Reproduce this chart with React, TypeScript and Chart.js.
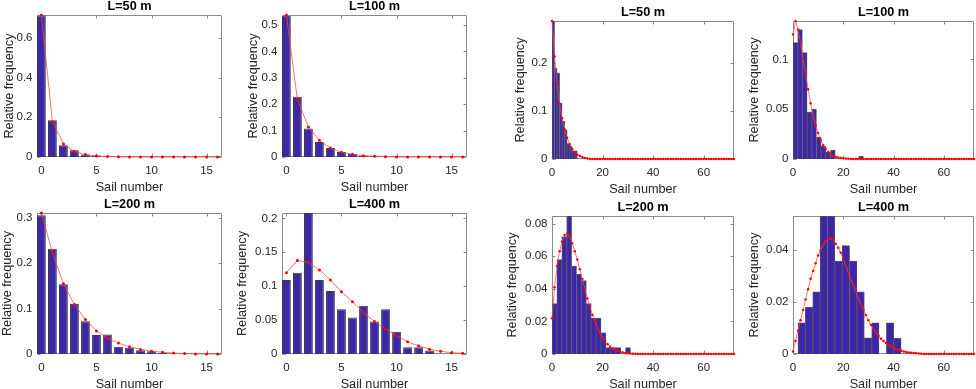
import React, { useEffect, useRef } from 'react';
import { Chart, registerables } from 'chart.js';

Chart.register(...registerables);

// ---------- data ----------
const SAIL_LEFT = [0, 1, 2, 3, 4, 5, 6, 7, 8, 9, 10, 11, 12, 13, 14, 15, 16];
const SAIL_RIGHT = [
  0, 1, 2, 3, 4, 5, 6, 7, 8, 9, 10, 11, 12, 13, 14, 15, 16, 17, 18, 19,
  20, 21, 22, 23, 24, 25, 26, 27, 28, 29, 30, 31, 32, 33, 34, 35, 36, 37, 38, 39,
  40, 41, 42, 43, 44, 45, 46, 47, 48, 49, 50, 51, 52, 53, 54, 55, 56, 57, 58, 59,
  60, 61, 62, 63, 64, 65, 66, 67, 68, 69, 70, 71, 72,
];

const X_TICKS_LEFT = [0, 5, 10, 15];
const X_TICKS_RIGHT = [0, 20, 40, 60];

// left group
const L50_FREQ = [0.712, 0.185, 0.059, 0.034, 0.012, 0.008, 0, 0, 0, 0, 0, 0, 0, 0, 0, 0, 0];
const L50_FIT = [0.715, 0.178, 0.066, 0.028, 0.012, 0.005, 0.002, 0.001, 0, 0, 0, 0, 0, 0, 0, 0, 0];
const L100_FREQ = [0.535, 0.228, 0.108, 0.057, 0.034, 0.019, 0.011, 0.004, 0.004, 0, 0, 0, 0, 0, 0, 0, 0];
const L100_FIT = [0.538, 0.218, 0.114, 0.063, 0.034, 0.018, 0.010, 0.005, 0.003, 0.001, 0, 0, 0, 0, 0, 0, 0];
const L200_FREQ = [0.306, 0.232, 0.154, 0.111, 0.072, 0.042, 0.043, 0.016, 0.014, 0.008, 0.006, 0.003, 0, 0, 0, 0, 0];
const L200_FIT = [0.311, 0.224, 0.155, 0.109, 0.076, 0.051, 0.035, 0.024, 0.016, 0.010, 0.006, 0.004, 0.002, 0.001, 0, 0, 0];
const L400_FREQ = [0.109, 0.120, 0.208, 0.109, 0.093, 0.066, 0.054, 0.071, 0.048, 0.066, 0.033, 0.010, 0.010, 0.005, 0, 0, 0];
const L400_FIT = [0.120, 0.138, 0.135, 0.124, 0.109, 0.092, 0.077, 0.061, 0.048, 0.037, 0.027, 0.018, 0.012, 0.007, 0.004, 0.002, 0.001];

const Y_TICKS_L50 = [0, 0.2, 0.4, 0.6];
const Y_TICKS_L100 = [0, 0.1, 0.2, 0.3, 0.4, 0.5];
const Y_TICKS_L200 = [0, 0.1, 0.2, 0.3];
const Y_TICKS_L400 = [0, 0.05, 0.1, 0.15, 0.2];

// right group
const R50_BIN = [0.5, 1.5, 2.5, 3.5, 4.5, 5.5, 6.5, 7.5, 8.5, 9.5];
const R50_FREQ = [0.287, 0.189, 0.179, 0.116, 0.079, 0.060, 0.032, 0.027, 0.017, 0.017];
const R50_FIT = [
  0.287, 0.213, 0.157, 0.115, 0.085, 0.062, 0.044, 0.031, 0.021, 0.014,
  0.009, 0.006, 0.004, 0.002, 0.001,
  0, 0, 0, 0, 0, 0, 0, 0, 0, 0,
  0, 0, 0, 0, 0, 0, 0, 0, 0, 0,
  0, 0, 0, 0, 0, 0, 0, 0, 0, 0,
  0, 0, 0, 0, 0, 0, 0, 0, 0, 0,
  0, 0, 0, 0, 0, 0, 0, 0, 0, 0,
  0, 0, 0, 0, 0, 0, 0, 0,
];

const R100_BIN = [0.93, 2.8, 4.67, 6.53, 8.4, 10.27, 12.13, 14.0, 15.87, 17.73, 19.6, 21.47, 23.33, 25.2, 27.07];
const R100_FREQ = [0.117, 0.130, 0.107, 0.047, 0.050, 0.022, 0.013, 0.007, 0.009, 0, 0, 0, 0, 0, 0.0026];
const R100_FIT = [
  0.125, 0.1386, 0.130, 0.117, 0.101, 0.085, 0.070, 0.056, 0.044, 0.034,
  0.026, 0.019, 0.014, 0.010, 0.007, 0.005, 0.003, 0.002, 0.0015, 0.001,
  0.0007, 0.0004, 0.0002, 0.0001,
  0, 0, 0, 0, 0, 0, 0, 0, 0, 0,
  0, 0, 0, 0, 0, 0, 0, 0, 0, 0,
  0, 0, 0, 0, 0, 0, 0, 0, 0, 0,
  0, 0, 0, 0, 0, 0, 0, 0, 0, 0,
  0, 0, 0, 0, 0, 0, 0, 0, 0,
];

const R200_BIN = [0.97, 2.91, 4.85, 6.79, 8.73, 10.67, 12.61, 14.55, 16.49, 18.43, 20.37, 22.31, 24.25, 26.19, 28.13, 30.07];
const R200_FREQ = [0.031, 0.058, 0.072, 0.0847, 0.054, 0.049, 0.045, 0.031, 0.022, 0.022, 0.013, 0.004, 0.004, 0.004, 0, 0.004];
const R200_FIT = [
  0.022, 0.041, 0.054, 0.063, 0.069, 0.073, 0.074, 0.072, 0.068, 0.063,
  0.058, 0.052, 0.046, 0.040, 0.034, 0.029, 0.024, 0.020, 0.016, 0.013,
  0.010, 0.008, 0.006, 0.0045, 0.0034, 0.0025, 0.0018, 0.0013, 0.0009, 0.0006,
  0.0004, 0.0003, 0.0002, 0.0001,
  0, 0, 0, 0, 0, 0, 0, 0, 0, 0,
  0, 0, 0, 0, 0, 0, 0, 0, 0, 0,
  0, 0, 0, 0, 0, 0, 0, 0, 0, 0,
  0, 0, 0, 0, 0, 0, 0, 0, 0,
];

const R400_BIN = [3.46, 6.39, 9.32, 12.25, 15.18, 18.11, 21.04, 23.97, 26.9, 29.83, 32.76, 35.69, 38.62, 41.55];
const R400_FREQ = [0.012, 0.018, 0.024, 0.0532, 0.0532, 0.0358, 0.0418, 0.0358, 0.024, 0.0062, 0.012, 0, 0.012, 0.006];
const R400_FIT = [
  0.001, 0.005, 0.009, 0.013, 0.017, 0.021, 0.025, 0.029, 0.032, 0.035,
  0.038, 0.040, 0.042, 0.0435, 0.0445, 0.0445, 0.044, 0.0425, 0.041, 0.039,
  0.0365, 0.034, 0.0315, 0.029, 0.0265, 0.024, 0.0215, 0.019, 0.017, 0.015,
  0.013, 0.0112, 0.0096, 0.0082, 0.007, 0.0059, 0.005, 0.0042, 0.0035, 0.0029,
  0.0024, 0.0019, 0.0016, 0.0013, 0.001, 0.0008, 0.0006, 0.0005, 0.0004, 0.0003,
  0.0002, 0.0001,
  0, 0, 0, 0, 0, 0, 0, 0, 0, 0,
  0, 0, 0, 0, 0, 0, 0, 0, 0, 0,
  0,
];

const Y_TICKS_R50 = [0, 0.1, 0.2];
const Y_TICKS_R100 = [0, 0.05, 0.1];
const Y_TICKS_R200 = [0, 0.02, 0.04, 0.06, 0.08];
const Y_TICKS_R400 = [0, 0.02, 0.04];

// ---------- styling ----------
const FONT = "'Liberation Sans', Arial, Helvetica, sans-serif";
const TICK_SIZE = 11.5;
const LABEL_SIZE = 12.7;
const TITLE_SIZE = 12.7;
const TEXT_COLOR = '#262626';
const AXIS_COLOR = '#8a8a8a';
const BAR_COLOR = '#3e26a8';
const LINE_COLOR = 'rgba(255, 70, 70, 0.75)';
const POINT_COLOR = '#ff0000';
const HX = 39;
const TITLE_BOX = 17;
const PAD_R = 3;

type PanelDef = {
  title: string;
  barX: number[];
  barY: number[];
  lineX: number[];
  lineY: number[];
  xTicks: number[];
  yTicks: number[];
  xMin: number;
  xMax: number;
  barPct: number;
  barBorder: number;
  barEdge: string;
  pointR: number;
  box: { L: number; R: number; T: number; B: number; yOff: number };
};

const boxPlugin = {
  id: 'matlabBox',
  beforeDatasetsDraw(chart: any) {
    const { ctx, chartArea } = chart;
    const xs = chart.scales.x;
    const ys = chart.scales.y;
    const l = Math.round(chartArea.left) + 0.5;
    const r = Math.round(chartArea.right) - 0.5;
    const t = Math.round(chartArea.top) + 0.5;
    const b = Math.round(chartArea.bottom) - 0.5;
    const TL = 3;
    ctx.save();
    ctx.strokeStyle = AXIS_COLOR;
    ctx.lineWidth = 1;
    ctx.beginPath();
    ctx.rect(l, t, r - l, b - t);
    xs.ticks.forEach((tk: any) => {
      const px = Math.round(xs.getPixelForValue(tk.value)) + 0.5;
      ctx.moveTo(px, b);
      ctx.lineTo(px, b - TL);
      ctx.moveTo(px, t);
      ctx.lineTo(px, t + TL);
    });
    ys.ticks.forEach((tk: any) => {
      const py = Math.round(ys.getPixelForValue(tk.value)) + 0.5;
      ctx.moveTo(l, py);
      ctx.lineTo(l + TL, py);
      ctx.moveTo(r, py);
      ctx.lineTo(r - TL, py);
    });
    ctx.stroke();
    ctx.restore();
  },
};

function PanelChart({ p }: { p: PanelDef }) {
  const ref = useRef<HTMLCanvasElement>(null);
  const { L, R, T, B, yOff } = p.box;
  const Wy = Math.ceil(yOff + 8);
  const width = Wy + (R - L) + PAD_R;
  const height = TITLE_BOX + (B - T) + HX;

  useEffect(() => {
    if (!ref.current) return;
    const ymax = Math.max(...p.barY, ...p.lineY);
    const labelLH = LABEL_SIZE * 1.2;
    const titleLH = TITLE_SIZE * 1.2;
    const chart = new Chart(ref.current, {
      type: 'bar',
      data: {
        datasets: [
          {
            type: 'line',
            data: p.lineX.map((x, i) => ({ x, y: p.lineY[i] })),
            borderColor: LINE_COLOR,
            borderWidth: 1,
            pointRadius: p.pointR,
            pointBackgroundColor: POINT_COLOR,
            pointBorderWidth: 0,
            tension: 0,
            clip: 3,
            order: 0,
          } as any,
          {
            type: 'bar',
            data: p.barX.map((x, i) => ({ x, y: p.barY[i] })),
            backgroundColor: BAR_COLOR,
            borderColor: p.barEdge,
            borderWidth: p.barBorder,
            barPercentage: p.barPct,
            categoryPercentage: 1,
            order: 1,
          } as any,
        ],
      },
      options: {
        responsive: false,
        animation: false,
        events: [],
        layout: { padding: { left: 0, right: PAD_R, top: 0, bottom: 0 } },
        plugins: {
          legend: { display: false },
          tooltip: { enabled: false },
          title: {
            display: true,
            text: p.title,
            fullSize: false,
            color: '#000',
            font: { family: FONT, size: TITLE_SIZE, weight: 'bold' },
            padding: { top: TITLE_BOX - titleLH - 1.38, bottom: 1.38 },
          },
        },
        scales: {
          x: {
            type: 'linear',
            min: p.xMin,
            max: p.xMax,
            offset: false,
            grid: { display: false, drawTicks: false },
            border: { display: false },
            afterBuildTicks: (s: any) => {
              s.ticks = p.xTicks.map((v) => ({ value: v }));
            },
            afterFit: (s: any) => {
              s.height = HX;
            },
            ticks: {
              padding: 6.6,
              autoSkip: false,
              maxRotation: 0,
              color: TEXT_COLOR,
              font: { family: FONT, size: TICK_SIZE },
              callback: (v: any) => String(v),
            },
            title: {
              display: true,
              text: 'Sail number',
              color: TEXT_COLOR,
              font: { family: FONT, size: LABEL_SIZE },
              padding: { top: 0, bottom: 1.38 },
            },
          },
          y: {
            type: 'linear',
            min: 0,
            max: ymax,
            grid: { display: false, drawTicks: false },
            border: { display: false },
            afterBuildTicks: (s: any) => {
              s.ticks = p.yTicks.map((v) => ({ value: v }));
            },
            afterFit: (s: any) => {
              s.width = Wy;
            },
            ticks: {
              padding: 4.5,
              autoSkip: false,
              color: TEXT_COLOR,
              font: { family: FONT, size: TICK_SIZE },
              callback: (v: any) => String(v),
            },
            title: {
              display: true,
              text: 'Relative frequency',
              color: TEXT_COLOR,
              font: { family: FONT, size: LABEL_SIZE },
              padding: { top: Math.max(Wy - yOff - labelLH / 2, 0), bottom: 0 },
            },
          },
        },
      } as any,
      plugins: [boxPlugin],
    });
    return () => chart.destroy();
  }, []);

  return (
    <canvas
      ref={ref}
      width={width}
      height={height}
      style={{
        position: 'absolute',
        left: L - Wy,
        top: T - TITLE_BOX,
        width,
        height,
        display: 'block',
      }}
    />
  );
}

const LEFT_COMMON = {
  xTicks: X_TICKS_LEFT,
  xMin: -0.4,
  xMax: 16.4,
  barPct: 0.8,
  barBorder: 1,
  barEdge: '#3a3a3a',
  pointR: 1.5,
};

const RIGHT_COMMON = {
  xTicks: X_TICKS_RIGHT,
  xMin: 0,
  xMax: 72,
  barPct: 1,
  barBorder: 0.8,
  barEdge: '#5a5a5a',
  pointR: 1.25,
};

const PANELS: PanelDef[] = [
  { ...LEFT_COMMON, title: 'L=50 m', barX: SAIL_LEFT, barY: L50_FREQ, lineX: SAIL_LEFT, lineY: L50_FIT, yTicks: Y_TICKS_L50, box: { L: 37, R: 223, T: 15, B: 157, yOff: 28 } },
  { ...LEFT_COMMON, title: 'L=100 m', barX: SAIL_LEFT, barY: L100_FREQ, lineX: SAIL_LEFT, lineY: L100_FIT, yTicks: Y_TICKS_L100, box: { L: 282, R: 468, T: 15, B: 157, yOff: 29 } },
  { ...LEFT_COMMON, title: 'L=200 m', barX: SAIL_LEFT, barY: L200_FREQ, lineX: SAIL_LEFT, lineY: L200_FIT, yTicks: Y_TICKS_L200, box: { L: 37, R: 223, T: 213, B: 354, yOff: 30 } },
  { ...LEFT_COMMON, title: 'L=400 m', barX: SAIL_LEFT, barY: L400_FREQ, lineX: SAIL_LEFT, lineY: L400_FIT, yTicks: Y_TICKS_L400, box: { L: 282, R: 468, T: 213, B: 354, yOff: 40 } },
  { ...RIGHT_COMMON, title: 'L=50 m', barX: R50_BIN, barY: R50_FREQ, lineX: SAIL_RIGHT, lineY: R50_FIT, yTicks: Y_TICKS_R50, box: { L: 552, R: 735, T: 21, B: 159, yOff: 32 } },
  { ...RIGHT_COMMON, title: 'L=100 m', barX: R100_BIN, barY: R100_FREQ, lineX: SAIL_RIGHT, lineY: R100_FIT, yTicks: Y_TICKS_R100, box: { L: 793, R: 975, T: 21, B: 159, yOff: 39 } },
  { ...RIGHT_COMMON, title: 'L=200 m', barX: R200_BIN, barY: R200_FREQ, lineX: SAIL_RIGHT, lineY: R200_FIT, yTicks: Y_TICKS_R200, box: { L: 552, R: 735, T: 216, B: 354, yOff: 39.5 } },
  { ...RIGHT_COMMON, title: 'L=400 m', barX: R400_BIN, barY: R400_FREQ, lineX: SAIL_RIGHT, lineY: R400_FIT, yTicks: Y_TICKS_R400, box: { L: 793, R: 975, T: 216, B: 354, yOff: 39 } },
];

export default function App() {
  return (
    <div
      style={{
        position: 'absolute',
        left: 0,
        top: 0,
        width: 976,
        height: 389,
        background: '#ffffff',
        overflow: 'hidden',
      }}
    >
      {PANELS.map((p, i) => (
        <PanelChart key={i} p={p} />
      ))}
    </div>
  );
}
